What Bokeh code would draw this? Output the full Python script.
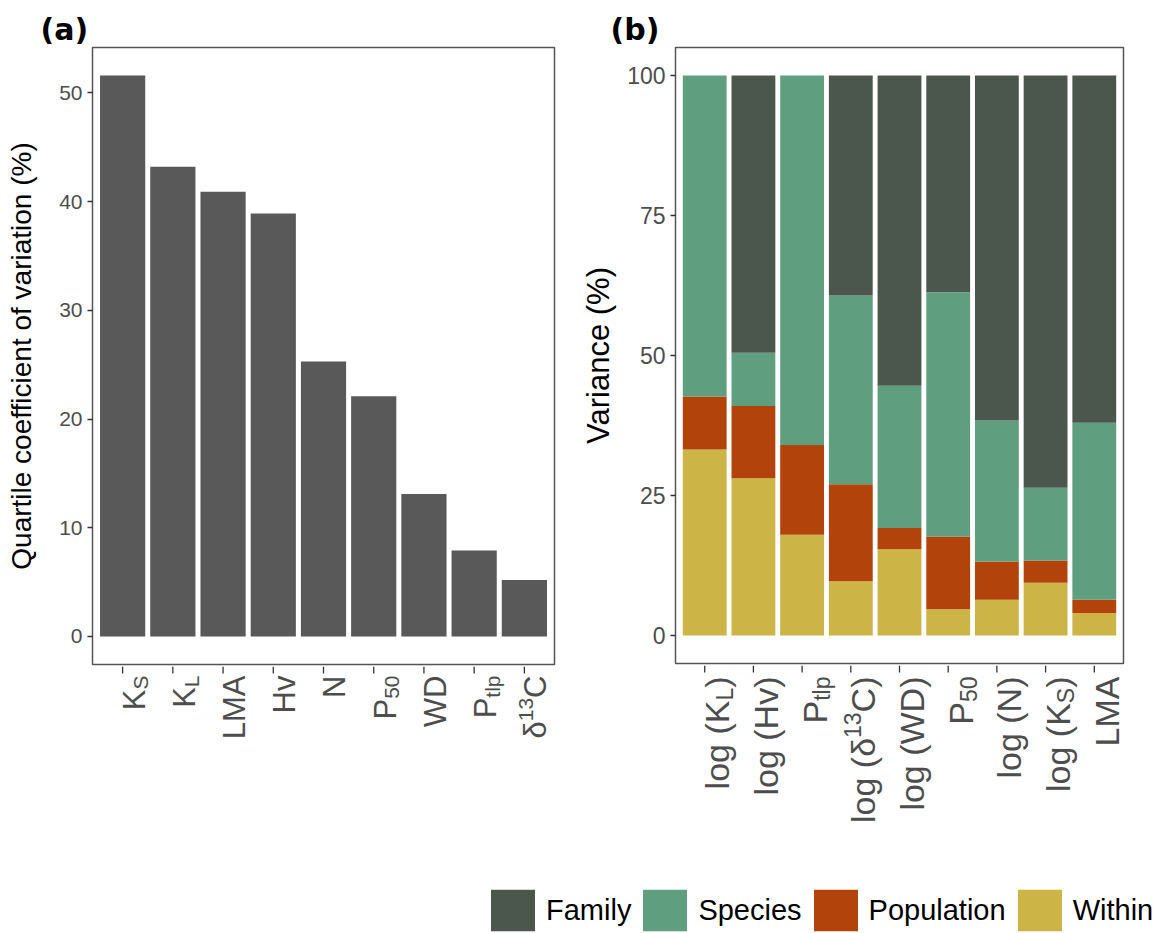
import math

from bokeh.core.properties import value
from bokeh.embed import file_html
from bokeh.layouts import column, row
from bokeh.models import ColumnDataSource, FixedTicker, Legend, LegendItem, Range1d
from bokeh.plotting import figure
from bokeh.resources import INLINE

# ---------------------------------------------------------------------------
# Panel (a): quartile coefficient of variation of each trait (%)
# ---------------------------------------------------------------------------
qcv_traits = ["Ks", "KL", "LMA", "Hv", "N", "P50", "WD", "Ptlp", "d13C"]
qcv_values = [51.6, 43.2, 40.9, 38.9, 25.3, 22.1, 13.1, 7.9, 5.2]
# tick labels as pieces: "n" normal, "sub" subscript, "sup" superscript
qcv_labels = [
    [("K", "n"), ("S", "sub")],
    [("K", "n"), ("L", "sub")],
    [("LMA", "n")],
    [("Hv", "n")],
    [("N", "n")],
    [("P", "n"), ("50", "sub")],
    [("WD", "n")],
    [("P", "n"), ("tlp", "sub")],
    [("δ", "n"), ("13", "sup"), ("C", "n")],
]
qcv_ticks = [0, 10, 20, 30, 40, 50]

# ---------------------------------------------------------------------------
# Panel (b): variance partitioned among nested levels (%)
# ---------------------------------------------------------------------------
var_traits = ["logKL", "logHv", "Ptlp", "logd13C", "logWD", "P50", "logN",
              "logKs", "LMA"]
var_labels = [
    [("log (K", "n"), ("L", "sub"), (")", "n")],
    [("log (Hv)", "n")],
    [("P", "n"), ("tlp", "sub")],
    [("log (δ", "n"), ("13", "sup"), ("C)", "n")],
    [("log (WD)", "n")],
    [("P", "n"), ("50", "sub")],
    [("log (N)", "n")],
    [("log (K", "n"), ("S", "sub"), (")", "n")],
    [("LMA", "n")],
]
within = [33.2, 28.1, 18.0, 9.7, 15.4, 4.7, 6.4, 9.4, 4.0]
population = [9.5, 12.9, 16.0, 17.3, 3.8, 13.0, 6.8, 4.0, 2.4]
species = [57.3, 9.5, 66.0, 33.7, 25.4, 43.6, 25.2, 13.0, 31.6]
family = [0.0, 49.5, 0.0, 39.3, 55.4, 38.7, 61.6, 73.6, 62.0]
var_ticks = [0, 25, 50, 75, 100]

levels = ["Family", "Species", "Population", "Within"]
level_colors = {"Family": "#4b574c", "Species": "#5f9f80",
                "Population": "#b2430b", "Within": "#ccb446"}

FONT = "Liberation Sans"
TICK_GREY = "#4d4d4d"
TOTAL_H = 870          # height of each panel column (plot + label strip)

# Arial / Liberation Sans advance widths (em) for building composite labels
ADVANCE = {"K": .667, "S": .667, "L": .556, "M": .833, "A": .667, "H": .722,
           "v": .5, "N": .722, "P": .667, "5": .556, "0": .556, "W": .944,
           "D": .722, "t": .278, "l": .222, "p": .556, "δ": .556, "1": .556,
           "3": .556, "C": .722, "o": .556, "g": .556, " ": .278, "(": .333,
           ")": .333}


def text_width(s, size):
    return sum(ADVANCE.get(ch, 0.6) for ch in s) * size


def label_strip(x_lo, x_hi, pieces_list, left, frame_w, right, height,
                gap, size, tick_len):
    """Strip under a panel holding the tick marks and the vertical category
    labels (with sub/superscripts), in a pixel-scaled y space.  The strip
    reaches to the right edge so that the last label is not cut."""
    per_px = (x_hi - x_lo) / frame_w
    strip = figure(frame_width=frame_w + right, frame_height=height,
                   min_border_left=left, min_border_right=0,
                   min_border_top=0, min_border_bottom=0,
                   x_range=Range1d(x_lo, x_hi + right * per_px),
                   y_range=Range1d(-height, 0),
                   x_axis_type=None, y_axis_type=None,
                   outline_line_color=None, toolbar_location=None,
                   output_backend="svg")
    strip.xgrid.visible = False
    strip.ygrid.visible = False

    cats = list(range(1, len(pieces_list) + 1))
    strip.segment(x0=cats, y0=[0] * len(cats), x1=cats,
                  y1=[-tick_len] * len(cats), line_color="#333333",
                  line_width=1.3)

    small = round(size * 0.68)
    base_off = 0.37 * size        # puts the cap edge right on the tick
    rows = dict(x=[], y=[], text=[], size=[], dx=[])
    for i, pieces in zip(cats, pieces_list):
        run = 0.0
        for txt, kind in reversed(pieces):
            fs = size if kind == "n" else small
            shift = {"n": 0.0, "sub": 0.22 * size, "sup": -0.32 * size}[kind]
            rows["x"].append(i)
            rows["y"].append(-gap - run)
            rows["text"].append(txt)
            rows["size"].append(f"{fs}px")
            rows["dx"].append(base_off + shift)
            run += text_width(txt, fs)
    strip.text(x="x", y="y", text="text", source=ColumnDataSource(rows),
               angle=math.pi / 2, text_align="right",
               text_baseline="alphabetic", x_offset="dx",
               text_font_size="size", text_font=value(FONT),
               text_color=TICK_GREY)
    return strip


def style_panel(p, y_ticks, tick_size, title, title_size, title_standoff):
    p.xgrid.visible = False
    p.ygrid.visible = False
    p.outline_line_color = "#555555"
    p.outline_line_width = 1.5
    ax = p.yaxis[0]
    ax.axis_line_color = None
    ax.major_tick_in = 0
    ax.major_tick_out = 5
    ax.major_tick_line_color = "#333333"
    ax.major_tick_line_width = 1.3
    ax.minor_tick_line_color = None
    ax.ticker = FixedTicker(ticks=y_ticks)
    ax.major_label_text_font = FONT
    ax.major_label_text_font_size = f"{tick_size}px"
    ax.major_label_text_color = TICK_GREY
    ax.major_label_standoff = 5
    ax.axis_label = title
    ax.axis_label_text_font = FONT
    ax.axis_label_text_font_size = f"{title_size}px"
    ax.axis_label_text_font_style = "normal"
    ax.axis_label_text_color = "black"
    ax.axis_label_standoff = title_standoff


def panel_tag(p, text, offset):
    p.title.text = text
    p.title.align = "left"
    p.title.offset = offset
    p.title.standoff = 2
    p.title.text_font = "DejaVu Sans"
    p.title.text_font_size = "30px"
    p.title.text_font_style = "bold"
    p.title.text_color = "black"


# ----------------------------- panel (a) -----------------------------------
n_a = len(qcv_traits)
ya_hi = max(qcv_values) * 1.05
ya_lo = -max(qcv_values) * 0.05
A_LEFT, A_W, A_RIGHT, A_TOP, A_H = 92, 462, 16, 47, 617
pa = figure(frame_width=A_W, frame_height=A_H, min_border_left=A_LEFT,
            min_border_right=A_RIGHT, min_border_top=A_TOP,
            min_border_bottom=2, x_axis_location=None,
            x_range=Range1d(0.4, n_a + 0.6), y_range=Range1d(ya_lo, ya_hi),
            toolbar_location=None, output_backend="svg")
src_a = ColumnDataSource(dict(x=list(range(1, n_a + 1)), trait=qcv_traits,
                              qcv=qcv_values))
pa.vbar(x="x", top="qcv", width=0.9, source=src_a, fill_color="#595959",
        line_color=None)
style_panel(pa, qcv_ticks, 21, "Quartile coefficient of variation (%)", 28, 19)
panel_tag(pa, "(a)", -52)
strip_a = label_strip(0.4, n_a + 0.6, qcv_labels, A_LEFT, A_W, A_RIGHT,
                      TOTAL_H - (A_TOP + A_H + 2), 9, 31, 7)

# ----------------------------- panel (b) -----------------------------------
n_b = len(var_traits)
yb_lo, yb_hi = -5, 105
B_LEFT, B_W, B_RIGHT, B_TOP, B_H = 105, 448, 47, 47, 616
pb = figure(frame_width=B_W, frame_height=B_H, min_border_left=B_LEFT,
            min_border_right=B_RIGHT, min_border_top=B_TOP,
            min_border_bottom=2, x_axis_location=None,
            x_range=Range1d(0.4, n_b + 0.6), y_range=Range1d(yb_lo, yb_hi),
            toolbar_location=None, output_backend="svg")
src_b = ColumnDataSource(dict(x=list(range(1, n_b + 1)), trait=var_traits,
                              Within=within, Population=population,
                              Species=species, Family=family))
stack_order = ["Within", "Population", "Species", "Family"]
pb.vbar_stack(stack_order, x="x", width=0.9, source=src_b,
              fill_color=[level_colors[k] for k in stack_order],
              line_color=None)
style_panel(pb, var_ticks, 23, "Variance (%)", 31, 8)
panel_tag(pb, "(b)", -65)
strip_b = label_strip(0.4, n_b + 0.6, var_labels, B_LEFT, B_W, B_RIGHT,
                      TOTAL_H - (B_TOP + B_H + 2), 11, 34, 7)

# ----------------------------- shared legend --------------------------------
LEG_H = 63
pleg = figure(width=1170, height=LEG_H, x_range=Range1d(0, 1170),
              y_range=Range1d(0, LEG_H), x_axis_type=None, y_axis_type=None,
              min_border=0, outline_line_color=None, toolbar_location=None,
              output_backend="svg")
pleg.xgrid.visible = False
pleg.ygrid.visible = False
items = []
for lvl in levels:
    # zero-size placeholder glyph that only supplies the legend swatch
    r = pleg.rect(x=[0], y=[0], width=0, height=0,
                  fill_color=level_colors[lvl], line_color=None)
    items.append(LegendItem(label=lvl, renderers=[r]))
# swatches are inset by 10% of the glyph box, so the box is drawn larger
legend = Legend(items=items, orientation="horizontal", location=(485, -3),
                glyph_width=55, glyph_height=52, label_standoff=6,
                spacing=6, padding=0, margin=0, border_line_color=None,
                background_fill_alpha=0, label_text_font=FONT,
                label_text_font_size="29px", label_text_color="black")
pleg.add_layout(legend)

layout = column(row(column(pa, strip_a), column(pb, strip_b)), pleg)
open("out.html", "w").write(file_html(layout, INLINE))
